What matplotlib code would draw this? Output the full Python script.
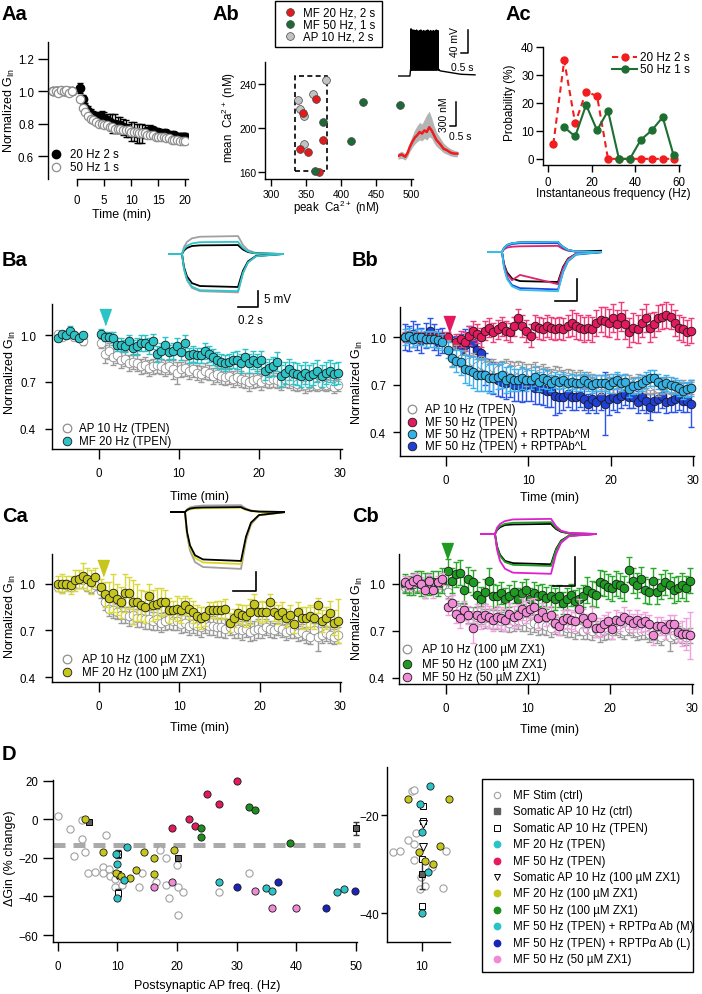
import matplotlib

matplotlib.use("Agg")
import matplotlib.pyplot as plt  # noqa: E402
import numpy as np  # noqa: E402
from matplotlib.lines import Line2D  # noqa: E402
from matplotlib.patches import Rectangle  # noqa: E402

W, H = 702, 995
plt.rcParams.update({
    "font.family": ["Liberation Sans", "DejaVu Sans"],
    "font.size": 8.3,
    "mathtext.default": "regular",
    "axes.linewidth": 1.0,
    "xtick.major.size": 5, "ytick.major.size": 5,
    "xtick.major.width": 1.0, "ytick.major.width": 1.0,
    "xtick.labelsize": 8.3, "ytick.labelsize": 8.3,
    "xtick.major.pad": 2.5, "ytick.major.pad": 2,
})

# ---------------------------------------------------------------- data: Aa
aa_t_base = [-4.5, -4.0, -3.5, -3.0, -2.5, -2.0, -1.5, -1.0]
aa_t_post = np.arange(0.5, 20.01, 0.5)
aa_50hz_base = [1.00, 1.00, 0.99, 1.01, 1.00, 1.01, 0.99, 1.00]
aa_50hz_post = [0.95, 0.90, 0.87, 0.85, 0.83, 0.82, 0.81, 0.80, 0.80, 0.79,
                0.79, 0.78, 0.78, 0.77, 0.77, 0.77, 0.76, 0.76, 0.76, 0.75,
                0.75, 0.75, 0.74, 0.74, 0.74, 0.73, 0.73, 0.73, 0.72, 0.72,
                0.72, 0.72, 0.71, 0.71, 0.70, 0.70, 0.70, 0.69, 0.69, 0.69]
aa_20hz_base = [1.00, 1.00, 1.00, 1.00, 1.00, 1.00, 1.00, 1.00]
aa_20hz_base_err = [0.01, 0.01, 0.01, 0.01, 0.01, 0.01, 0.02, 0.01]
aa_20hz_post = [1.02, 0.95, 0.90, 0.88, 0.86, 0.85, 0.84, 0.84, 0.84, 0.83,
                0.82, 0.81, 0.80, 0.80, 0.79, 0.79, 0.78, 0.77, 0.76, 0.75,
                0.75, 0.74, 0.74, 0.74, 0.75, 0.75, 0.76, 0.76, 0.75, 0.75,
                0.74, 0.74, 0.74, 0.73, 0.73, 0.73, 0.72, 0.72, 0.72, 0.72]
aa_20hz_post_err = [0.03, 0.03, 0.03, 0.03, 0.03, 0.03, 0.03, 0.03, 0.04, 0.04,
                    0.04, 0.05, 0.06, 0.06, 0.05, 0.05, 0.05, 0.05, 0.04, 0.06,
                    0.06, 0.06, 0.06, 0.06, 0.04, 0.03, 0.03, 0.02, 0.02, 0.02,
                    0.02, 0.02, 0.02, 0.02, 0.02, 0.02, 0.02, 0.02, 0.02, 0.02]

# ---------------------------------------------------------------- data: Ab
ab_mf20_peak = [365, 346, 341, 353, 374, 368]
ab_mf20_mean = [226, 214, 181, 178, 189, 160]
ab_mf50_peak = [431, 484, 374, 415, 363]
ab_mf50_mean = [224, 221, 205, 188, 161]
ab_ap10_peak = [379, 360, 339, 342, 347, 347]
ab_ap10_mean = [244, 231, 225, 217, 211, 185]
ab_box = (334, 160.5, 46, 86.5)          # dashed selection (x, y, w, h)
# inset: AP burst (s, mV)
ap_base_t = [0.0, 0.85, 0.90, 2.90, 3.0, 3.5, 4.5, 5.5]
ap_base_v = [-70, -70, -58, -58, -61, -63, -67, -68]
ap_spike_t = [0.92, 1.02, 1.12, 1.22, 1.32, 1.42, 1.52, 1.62, 1.72, 1.82,
              1.92, 2.02, 2.12, 2.22, 2.32, 2.42, 2.52, 2.62, 2.72, 2.84]
ap_spike_peak = [12, 10, 10, 9, 10, 8, 9, 10, 8, 9, 8, 9, 10, 8, 9, 8, 9, 8, 10, 9]
# inset: Ca2+ transient (s, nM above rest)
ca_t = [0.0, 0.3, 0.6, 0.8, 1.0, 1.2, 1.4, 1.6, 1.8, 2.0, 2.2,
        2.4, 2.6, 2.8, 3.0, 3.2, 3.5, 3.8, 4.1, 4.4, 4.7, 4.95]
ca_red = [0, 20, -10, 40, 120, 180, 230, 260, 300, 280, 320,
          300, 360, 320, 260, 200, 150, 90, 70, 40, 30, 30]
ca_gray_hi = [40, 60, 30, 90, 180, 260, 330, 380, 420, 400, 460,
              520, 560, 480, 380, 300, 230, 160, 120, 90, 70, 60]
ca_gray_lo = [-40, -30, -50, -10, 60, 110, 150, 180, 200, 190, 220,
              200, 240, 220, 160, 120, 80, 40, 20, 0, -10, -10]

# ---------------------------------------------------------------- data: Ac
ac_freq = [2.5, 7.5, 12.5, 17.5, 22.5, 27.5, 32.5, 37.5, 42.5, 47.5, 52.5, 57.5]
ac_20hz = [5.2, 35.2, 12.7, 24.0, 22.5, 0, 0, 0, 0, 0, 0, 0]
ac_50hz = [None, 11.3, 8.0, 19.3, 10.2, 17.2, 0, 0, 6.8, 10.2, 14.9, 1.2]

# ------------------------------------------------------- data: B/C courses
t_base10 = np.arange(-5.0, -0.4, 0.5)
t_base7 = np.arange(-5.0, -1.9, 0.5)
t_post = np.arange(0.25, 30.0, 0.5)

tpen_ap_base = [1.01, 0.99, 1.00, 1.01, 0.99, 0.98, 0.96]
tpen_ap_base_err = [0.02, 0.02, 0.02, 0.02, 0.02, 0.02, 0.02]
tpen_ap_post = [0.95, 0.88, 0.90, 0.86, 0.87, 0.84, 0.85, 0.82, 0.83, 0.82,
                0.80, 0.81, 0.79, 0.80, 0.81, 0.80, 0.79, 0.80, 0.78, 0.76,
                0.78, 0.79, 0.77, 0.78, 0.76, 0.75, 0.77, 0.76, 0.74, 0.75,
                0.74, 0.73, 0.74, 0.72, 0.73, 0.72, 0.71, 0.70, 0.71, 0.72,
                0.70, 0.72, 0.71, 0.72, 0.71, 0.70, 0.72, 0.71, 0.70, 0.69,
                0.70, 0.68, 0.69, 0.70, 0.68, 0.69, 0.68, 0.69, 0.67, 0.68]
tpen_ap_err = [0.03, 0.06, 0.05, 0.05, 0.05, 0.05, 0.05, 0.05, 0.05, 0.05,
               0.05, 0.05, 0.05, 0.05, 0.05, 0.05, 0.05, 0.05, 0.06, 0.07,
               0.05, 0.05, 0.05, 0.05, 0.05, 0.05, 0.05, 0.05, 0.05, 0.05,
               0.05, 0.05, 0.05, 0.05, 0.05, 0.05, 0.05, 0.06, 0.05, 0.05,
               0.05, 0.05, 0.05, 0.05, 0.05, 0.05, 0.05, 0.05, 0.05, 0.05,
               0.05, 0.05, 0.05, 0.05, 0.04, 0.04, 0.04, 0.04, 0.04, 0.04]

ba_mf20_base = [0.98, 1.01, 1.00, 1.03, 1.00, 0.98, 1.00]
ba_mf20_base_err = [0.02, 0.02, 0.02, 0.03, 0.02, 0.02, 0.02]
ba_mf20_post = [1.01, 0.99, 0.99, 0.98, 0.94, 0.94, 0.93, 0.96, 0.92, 0.93,
                0.95, 0.95, 0.93, 0.96, 0.88, 0.90, 0.94, 0.89, 0.90, 0.93,
                0.89, 0.95, 0.87, 0.88, 0.87, 0.87, 0.90, 0.88, 0.86, 0.84,
                0.83, 0.82, 0.83, 0.84, 0.84, 0.82, 0.86, 0.82, 0.84, 0.82,
                0.84, 0.77, 0.79, 0.80, 0.83, 0.74, 0.76, 0.78, 0.76, 0.75,
                0.74, 0.76, 0.74, 0.75, 0.77, 0.74, 0.76, 0.77, 0.75, 0.76]
ba_mf20_err = [0.03, 0.03, 0.03, 0.04, 0.04, 0.04, 0.04, 0.04, 0.05, 0.05,
               0.05, 0.05, 0.05, 0.05, 0.05, 0.05, 0.05, 0.05, 0.05, 0.05,
               0.05, 0.05, 0.05, 0.05, 0.05, 0.05, 0.05, 0.05, 0.05, 0.05,
               0.05, 0.05, 0.05, 0.05, 0.06, 0.06, 0.05, 0.06, 0.06, 0.06,
               0.06, 0.06, 0.06, 0.06, 0.06, 0.07, 0.07, 0.07, 0.07, 0.07,
               0.07, 0.07, 0.07, 0.07, 0.07, 0.07, 0.07, 0.07, 0.07, 0.07]

bb_mf50_base = [1.00, 1.01, 0.99, 1.00, 1.00, 0.99, 1.00, 0.99, 1.00, 1.00]
bb_mf50_base_err = [0.03, 0.03, 0.03, 0.03, 0.03, 0.03, 0.03, 0.03, 0.03, 0.03]
bb_mf50_post = [1.00, 0.95, 0.97, 0.99, 0.97, 1.01, 1.04, 1.02, 1.00, 1.04,
                1.06, 1.03, 1.05, 1.07, 1.04, 1.03, 1.07, 1.12, 1.07, 1.04,
                1.01, 1.07, 1.06, 1.05, 1.07, 1.06, 1.05, 1.06, 1.05, 1.07,
                1.09, 1.07, 1.06, 1.05, 1.06, 1.05, 1.09, 1.11, 1.10, 1.09,
                1.12, 1.08, 1.13, 1.08, 1.03, 1.06, 1.05, 1.09, 1.12, 1.06,
                1.08, 1.12, 1.13, 1.14, 1.13, 1.09, 1.06, 1.05, 1.03, 1.04]
bb_mf50_err = [0.03, 0.04, 0.05, 0.05, 0.06, 0.06, 0.06, 0.06, 0.06, 0.06,
               0.06, 0.06, 0.06, 0.06, 0.06, 0.06, 0.06, 0.06, 0.07, 0.07,
               0.07, 0.07, 0.07, 0.07, 0.07, 0.07, 0.07, 0.07, 0.07, 0.07,
               0.08, 0.08, 0.08, 0.08, 0.08, 0.08, 0.08, 0.08, 0.09, 0.09,
               0.09, 0.09, 0.09, 0.09, 0.09, 0.09, 0.09, 0.09, 0.09, 0.09,
               0.08, 0.08, 0.08, 0.08, 0.08, 0.08, 0.08, 0.08, 0.08, 0.08]
bb_abm_base = [1.00, 1.01, 0.99, 1.00, 1.00, 0.99, 0.99, 0.99, 0.98, 0.97]
bb_abm_base_err = [0.05, 0.05, 0.05, 0.05, 0.05, 0.05, 0.05, 0.05, 0.05, 0.05]
bb_abm_post = [0.92, 0.87, 0.85, 0.84, 0.80, 0.79, 0.78, 0.76, 0.76, 0.76,
               0.74, 0.74, 0.75, 0.76, 0.73, 0.74, 0.73, 0.73, 0.74, 0.73,
               0.73, 0.75, 0.72, 0.74, 0.73, 0.71, 0.73, 0.72, 0.73, 0.71,
               0.72, 0.71, 0.71, 0.73, 0.71, 0.70, 0.71, 0.71, 0.71, 0.70,
               0.72, 0.73, 0.71, 0.72, 0.67, 0.69, 0.70, 0.71, 0.73, 0.74,
               0.74, 0.72, 0.70, 0.71, 0.70, 0.69, 0.68, 0.66, 0.67, 0.68]
bb_abm_err = [0.05, 0.06, 0.07, 0.08, 0.09, 0.09, 0.10, 0.10, 0.10, 0.10,
              0.09, 0.09, 0.08, 0.08, 0.08, 0.08, 0.07, 0.07, 0.07, 0.07,
              0.06, 0.06, 0.06, 0.06, 0.06, 0.05, 0.05, 0.05, 0.05, 0.05,
              0.05, 0.05, 0.05, 0.05, 0.05, 0.05, 0.05, 0.05, 0.05, 0.05,
              0.05, 0.05, 0.05, 0.05, 0.05, 0.05, 0.05, 0.05, 0.05, 0.05,
              0.05, 0.05, 0.05, 0.05, 0.05, 0.05, 0.05, 0.05, 0.05, 0.05]
bb_abl_base = [1.00, 0.99, 1.02, 1.00, 0.98, 1.01, 1.04, 1.00, 0.97, 0.98]
bb_abl_base_err = [0.08, 0.08, 0.08, 0.08, 0.08, 0.08, 0.08, 0.08, 0.08, 0.08]
bb_abl_post = [0.96, 0.94, 0.93, 0.92, 0.95, 0.97, 0.96, 0.92, 0.90, 0.80,
               0.76, 0.74, 0.73, 0.72, 0.71, 0.72, 0.70, 0.70, 0.69, 0.70,
               0.70, 0.68, 0.68, 0.67, 0.66, 0.66, 0.63, 0.62, 0.62, 0.64,
               0.62, 0.62, 0.63, 0.61, 0.58, 0.61, 0.59, 0.62, 0.58, 0.61,
               0.62, 0.61, 0.63, 0.64, 0.62, 0.62, 0.59, 0.62, 0.60, 0.56,
               0.60, 0.61, 0.63, 0.59, 0.60, 0.61, 0.62, 0.60, 0.60, 0.58]
bb_abl_err = [0.05, 0.06, 0.08, 0.10, 0.10, 0.10, 0.10, 0.10, 0.10, 0.10,
              0.10, 0.10, 0.10, 0.10, 0.10, 0.10, 0.10, 0.10, 0.10, 0.10,
              0.10, 0.10, 0.10, 0.10, 0.10, 0.10, 0.12, 0.10, 0.08, 0.08,
              0.08, 0.08, 0.07, 0.07, 0.06, 0.07, 0.07, 0.08, 0.20, 0.10,
              0.08, 0.08, 0.08, 0.07, 0.07, 0.07, 0.07, 0.08, 0.08, 0.08,
              0.07, 0.08, 0.08, 0.07, 0.07, 0.08, 0.08, 0.07, 0.07, 0.15]

zx1_ap_base = [0.98, 0.97, 0.99, 0.98, 1.00, 1.00, 1.02, 0.98, 0.97, 0.99]
zx1_ap_base_err = [0.03, 0.03, 0.03, 0.03, 0.03, 0.03, 0.03, 0.03, 0.03, 0.03]
zx1_ap_post = [0.95, 0.88, 0.84, 0.83, 0.82, 0.80, 0.80, 0.79, 0.80, 0.78,
               0.78, 0.77, 0.77, 0.76, 0.77, 0.75, 0.76, 0.77, 0.76, 0.76,
               0.74, 0.75, 0.73, 0.74, 0.73, 0.72, 0.74, 0.73, 0.73, 0.72,
               0.72, 0.71, 0.72, 0.70, 0.71, 0.70, 0.71, 0.69, 0.70, 0.71,
               0.70, 0.72, 0.71, 0.70, 0.72, 0.71, 0.69, 0.70, 0.70, 0.68,
               0.69, 0.67, 0.66, 0.70, 0.66, 0.67, 0.68, 0.67, 0.66, 0.67]
zx1_ap_err = [0.04, 0.05, 0.05, 0.05, 0.05, 0.05, 0.05, 0.06, 0.06, 0.06,
              0.06, 0.06, 0.06, 0.06, 0.07, 0.06, 0.06, 0.06, 0.06, 0.06,
              0.06, 0.06, 0.06, 0.06, 0.06, 0.06, 0.06, 0.06, 0.06, 0.06,
              0.06, 0.06, 0.05, 0.05, 0.06, 0.06, 0.05, 0.06, 0.06, 0.06,
              0.05, 0.05, 0.05, 0.05, 0.05, 0.05, 0.05, 0.05, 0.05, 0.05,
              0.05, 0.05, 0.05, 0.05, 0.09, 0.05, 0.05, 0.05, 0.05, 0.05]

ca_mf20_base = [1.00, 1.00, 1.00, 0.99, 1.02, 1.03, 1.05, 1.03, 1.01, 1.04]
ca_mf20_base_err = [0.05, 0.06, 0.05, 0.06, 0.07, 0.06, 0.08, 0.07, 0.08, 0.06]
ca_mf20_post = [0.98, 0.93, 0.91, 0.94, 0.90, 0.88, 0.94, 0.94, 0.88, 0.88,
                0.86, 0.85, 0.92, 0.86, 0.87, 0.88, 0.88, 0.83, 0.83, 0.84,
                0.83, 0.86, 0.84, 0.82, 0.79, 0.78, 0.79, 0.83, 0.83, 0.83,
                0.83, 0.84, 0.75, 0.78, 0.81, 0.80, 0.79, 0.82, 0.87, 0.82,
                0.82, 0.82, 0.88, 0.82, 0.80, 0.82, 0.78, 0.80, 0.74, 0.82,
                0.78, 0.78, 0.79, 0.78, 0.86, 0.76, 0.78, 0.81, 0.75, 0.76]
ca_mf20_err = [0.05, 0.08, 0.10, 0.12, 0.10, 0.10, 0.12, 0.10, 0.14, 0.12,
               0.10, 0.10, 0.08, 0.10, 0.10, 0.09, 0.08, 0.08, 0.06, 0.08,
               0.08, 0.06, 0.07, 0.07, 0.07, 0.07, 0.06, 0.05, 0.05, 0.06,
               0.06, 0.06, 0.06, 0.06, 0.06, 0.06, 0.07, 0.08, 0.06, 0.06,
               0.07, 0.06, 0.05, 0.06, 0.06, 0.06, 0.06, 0.06, 0.06, 0.06,
               0.07, 0.07, 0.07, 0.07, 0.05, 0.07, 0.07, 0.08, 0.08, 0.14]

cb_mf50_base = [1.00, 0.99, 1.00, 1.01, 1.00, 0.99, 1.00, 1.01, 1.00, 1.02]
cb_mf50_base_err = [0.06, 0.06, 0.07, 0.07, 0.08, 0.08, 0.07, 0.07, 0.08, 0.08]
cb_mf50_post = [1.08, 1.02, 1.06, 1.07, 0.96, 1.03, 1.01, 0.93, 0.90, 0.95,
                1.02, 0.92, 0.92, 0.94, 0.90, 0.92, 0.95, 0.90, 0.94, 0.96,
                0.90, 0.94, 0.92, 0.93, 0.91, 0.92, 0.90, 0.92, 0.88, 0.90,
                0.93, 0.89, 0.90, 0.92, 0.96, 0.94, 0.93, 1.01, 1.00, 0.98,
                0.97, 1.00, 0.99, 0.97, 1.09, 1.02, 0.99, 1.03, 0.96, 0.95,
                1.02, 0.95, 0.98, 1.01, 0.99, 0.96, 0.97, 0.99, 0.97, 1.02]
cb_mf50_err = [0.08, 0.08, 0.08, 0.08, 0.08, 0.08, 0.08, 0.08, 0.08, 0.08,
               0.08, 0.08, 0.07, 0.07, 0.07, 0.07, 0.07, 0.07, 0.07, 0.07,
               0.07, 0.07, 0.07, 0.07, 0.07, 0.07, 0.07, 0.07, 0.07, 0.07,
               0.07, 0.07, 0.07, 0.07, 0.08, 0.08, 0.08, 0.08, 0.08, 0.08,
               0.08, 0.08, 0.08, 0.08, 0.08, 0.08, 0.08, 0.08, 0.08, 0.08,
               0.08, 0.08, 0.08, 0.08, 0.08, 0.08, 0.08, 0.08, 0.08, 0.08]
cb_zx50_base = [1.01, 1.00, 1.02, 1.03, 1.00, 0.96, 1.02, 0.96, 1.01, 1.03]
cb_zx50_base_err = [0.04, 0.04, 0.04, 0.04, 0.04, 0.05, 0.04, 0.05, 0.04, 0.04]
cb_zx50_post = [0.85, 0.88, 0.81, 0.78, 0.83, 0.80, 0.72, 0.80, 0.78, 0.80,
                0.79, 0.77, 0.79, 0.78, 0.77, 0.81, 0.79, 0.80, 0.84, 0.82,
                0.84, 0.85, 0.78, 0.82, 0.79, 0.80, 0.75, 0.73, 0.77, 0.78,
                0.77, 0.76, 0.84, 0.78, 0.75, 0.79, 0.72, 0.72, 0.74, 0.76,
                0.71, 0.77, 0.76, 0.79, 0.77, 0.75, 0.77, 0.75, 0.76, 0.74,
                0.67, 0.73, 0.73, 0.71, 0.74, 0.74, 0.69, 0.68, 0.68, 0.67]
cb_zx50_err = [0.05, 0.05, 0.06, 0.06, 0.06, 0.06, 0.10, 0.07, 0.07, 0.07,
               0.07, 0.07, 0.07, 0.07, 0.07, 0.07, 0.07, 0.07, 0.07, 0.07,
               0.06, 0.06, 0.06, 0.06, 0.06, 0.06, 0.06, 0.06, 0.06, 0.06,
               0.06, 0.06, 0.06, 0.06, 0.06, 0.06, 0.06, 0.06, 0.06, 0.06,
               0.06, 0.06, 0.06, 0.06, 0.06, 0.06, 0.06, 0.06, 0.06, 0.06,
               0.06, 0.06, 0.06, 0.06, 0.06, 0.06, 0.06, 0.08, 0.10, 0.15]

# example voltage responses to +/- current steps (s, mV)
tr_t = [0.0, 0.14, 0.16, 0.19, 0.24, 0.32, 0.70, 0.72, 0.75, 0.80, 0.88, 1.15]
ba_tr_gray = ([0, 0, 2.2, 3.8, 4.9, 5.4, 5.6, 4.5, 2.8, 1.2, 0.3, 0],
              [0, 0, -4.8, -8.2, -10.6, -11.6, -12.0, -9.6, -6.0, -2.6, -0.7, 0])
ba_tr_black = ([0, 0, 1.1, 1.9, 2.5, 2.7, 2.8, 2.2, 1.4, 0.6, 0.2, 0],
               [0, 0, -4.1, -7.0, -9.1, -10.0, -10.3, -8.2, -5.2, -2.3, -0.6, 0])
ba_tr_cyan = ([0, 0, 1.5, 2.6, 3.3, 3.7, 3.8, 3.0, 1.9, 0.8, 0.2, 0],
              [0, 0, -4.6, -7.9, -10.2, -11.3, -11.6, -9.3, -5.8, -2.6, -0.7, 0])
bb_tr_black = ([0, 0, 0.9, 1.6, 2.0, 2.2, 2.3, 1.8, 1.2, 0.5, 0.1, 0.3],
               [0, 0, -2.7, -4.6, -6.0, -6.6, -6.8, -5.4, -3.4, -1.5, -0.4, 0])
bb_tr_mag = ([0, 0, 0.6, 1.0, 1.2, 1.3, 1.4, 1.1, 0.7, 0.3, 0.1, 0],
             [0, 0, -2.9, -5.0, -6.4, -5.2, -7.3, -5.8, -3.7, -1.6, -0.4, 0])
bb_tr_blue = ([0, 0, 0.8, 1.4, 1.8, 2.0, 2.0, 1.6, 1.0, 0.4, 0.1, 0],
              [0, 0, -3.4, -5.8, -7.5, -8.2, -8.5, -7.0, -4.6, -2.1, -0.6, 0])
bb_tr_cyan = ([0, 0, 0.9, 1.6, 2.0, 2.2, 2.3, 1.8, 1.2, 0.5, 0.1, 0],
              [0, 0, -3.6, -6.1, -7.8, -8.6, -8.9, -7.1, -4.5, -2.0, -0.5, 0])
ca_tr_gray = ([0, 0, 0.7, 1.2, 1.5, 1.7, 1.8, 1.4, 0.9, 0.4, 0.1, 0],
              [0, 0, -6.0, -10.2, -13.2, -14.5, -15.0, -12.0, -7.5, -3.3, -0.9, 0])
ca_tr_black = ([0, 0, 0.5, 0.9, 1.1, 1.2, 1.3, 1.0, 0.7, 0.3, 0.1, 0],
               [0, 0, -5.2, -8.8, -11.4, -12.5, -12.9, -10.3, -6.5, -2.8, -0.8, 0])
ca_tr_yel = ([0, 0, 0.4, 0.7, 0.9, 1.0, 1.1, 0.9, 0.6, 0.2, 0.1, 0],
             [0, 0, -5.5, -9.3, -12.1, -13.3, -13.7, -11.0, -6.9, -3.0, -0.8, 0])
cb_tr_mag = ([0, 0, 1.1, 1.8, 2.3, 2.6, 2.7, 2.2, 1.4, 0.6, 0.2, 0],
             [0, 0, -2.8, -4.8, -6.2, -6.9, -7.1, -5.7, -3.6, -1.6, -0.4, 0])
cb_tr_green = ([0, 0, 0.8, 1.4, 1.8, 2.0, 2.1, 1.7, 1.1, 0.5, 0.1, 0],
               [0, 0, -2.3, -3.9, -5.0, -5.5, -5.7, -4.6, -2.9, -1.3, -0.3, 0])
cb_tr_black = ([0, 0, 0.7, 1.2, 1.6, 1.7, 1.8, 1.4, 0.9, 0.4, 0.1, 0],
               [0, 0, -2.2, -3.7, -4.8, -5.2, -5.4, -4.3, -2.7, -1.2, -0.3, 0])

# ---------------------------------------------------------------- data: D
d_ctrl_x = [0.1, 2.1, 4.1, 4.1, 8.1, 2.7, 4.6, 17.1, 18.1, 20.0, 5.1, 6.2, 7.6,
            7.6, 8.6, 8.7, 9.6, 9.6, 10.7, 13.6, 14.2, 16.4, 18.1, 18.6, 20.1,
            21.0, 20.1, 27.1, 32.0]
d_ctrl_y = [1.4, -5.2, -0.5, -10.4, -8.3, -19.0, -16.8, -16.1, -19.9, -23.9,
            -27.7, -27.2, -24.8, -27.7, -26.0, -29.4, -31.2, -35.3, -34.3, -35.2,
            -27.7, -32.5, -34.3, -41.0, -35.2, -37.8, -49.4, -37.7, -27.7]
d_som_ctrl_x = [5.2, 20.1, 50.0]
d_som_ctrl_y = [-1.4, -19.9, -4.7]
d_som_ctrl_err = [0, 0, 3.5]
d_som_tpen_x = [10.1, 10.1]
d_som_tpen_y = [-18.2, -38.1]
d_som_zx1_x = [10.0]
d_som_zx1_y = [-29.0]
d_mf20_tpen_x = [9.7, 10.0, 11.1, 10.0, 11.6]
d_mf20_tpen_y = [-17.9, -23.4, -31.7, -40.7, -14.2]
d_mf50_tpen_x = [19.1, 22.0, 23.1, 25.1, 27.0, 30.1]
d_mf50_tpen_y = [-4.7, 0.0, -3.5, 13.0, 8.1, 19.6]
d_mf20_zx1_x = [4.6, 7.6, 14.5, 16.1, 19.5, 9.7, 10.6, 12.1, 13.1, 16.1]
d_mf20_zx1_y = [0.0, -16.8, -16.8, -20.3, -15.9, -27.7, -29.4, -30.3, -26.5, -28.2]
d_mf50_zx1_x = [24.0, 24.0, 32.0, 33.1, 39.0]
d_mf50_zx1_y = [-4.8, -9.2, 6.1, 4.8, -12.1]
d_ab_m_x = [27.1, 34.9, 36.0, 46.9, 48.0]
d_ab_m_y = [-32.4, -35.5, -37.3, -37.7, -35.9]
d_ab_l_x = [30.1, 37.0, 45.0, 49.9]
d_ab_l_y = [-35.2, -32.4, -46.2, -37.3]
d_zx50_x = [16.1, 19.1, 33.1, 36.0, 40.0]
d_zx50_y = [-35.0, -32.4, -37.3, -46.2, -46.2]
d_threshold = -13.5

# D right: the 10 Hz group spread out
r_ctrl_x = [9.26, 9.4, 9.6, 9.0, 9.4, 11.7, 7.95, 8.4, 9.4, 10.7, 9.86, 10.2, 11.5, 9.9]
r_ctrl_y = [-15.0, -14.8, -23.7, -25.0, -25.9, -27.3, -27.6, -27.3, -29.1, -30.7,
            -35.1, -34.4, -34.9, -32.6]
r_som_ctrl_x = [10.0]
r_som_ctrl_y = [-32.0]
r_som_ctrl_err = [3.0]
r_som_tpen_x = [10.1, 10.05, 10.0, 10.0]
r_som_tpen_y = [-18.1, -21.2, -29.0, -38.5]
r_som_zx1_x = [10.05, 10.1]
r_som_zx1_y = [-21.8, -26.6]
r_mf20_tpen_x = [10.6, 9.86, 10.0, 10.45, 10.0]
r_mf20_tpen_y = [-14.0, -17.8, -23.4, -31.7, -40.0]
r_mf20_zx1_x = [9.0, 11.9, 11.3, 9.8, 10.2, 10.8]
r_mf20_zx1_y = [-16.7, -16.7, -26.3, -27.6, -29.3, -30.0]

# ---------------------------------------------------------------- colours
CYAN, CYAN_E = "#2cc3c6", "#2ac4c8"
MAG, MAG_E = "#e5195e", "#f03b78"
LBLUE, LBLUE_E = "#33b2e6", "#3cb0ee"
DBLUE, DBLUE_E = "#1f3fd6", "#2b55ea"
OLIVE, OLIVE_E = "#c6c61c", "#d8d83c"
GREEN, GREEN_E = "#1f9a22", "#2aa82c"
PINK, PINK_E = "#f08ad6", "#f2a0e0"
GRAY_E = "#9a9a9a"
D_GREEN, D_BLUE = "#1e8c1e", "#1a24b8"

fig = plt.figure(figsize=(W / 100, H / 100), dpi=100)


def new_axes(box):
    x0, y0, x1, y1 = box
    return fig.add_axes([x0 / W, 1 - y1 / H, (x1 - x0) / W, (y1 - y0) / H])


def igor(ax, xlen=5, xpad=2.5, ylen=5, ypad=2):
    ax.spines[["top", "right"]].set_visible(False)
    ax.tick_params(direction="out")
    ax.tick_params(axis="x", length=xlen, pad=xpad)
    ax.tick_params(axis="y", length=ylen, pad=ypad)


def labels(ax, box, xlabel=None, xpos=None, ylabel=None, ypos=None, fs=9):
    x0, y0, x1, y1 = box

    def to_ax(x, y):
        return (x - x0) / (x1 - x0), (y1 - y) / (y1 - y0)

    if xlabel:
        ax.set_xlabel(xlabel, fontsize=fs)
        ax.xaxis.set_label_coords(*to_ax(*xpos))
        ax.xaxis.label.set_va("center")
    if ylabel:
        ax.set_ylabel(ylabel, fontsize=fs)
        ax.yaxis.set_label_coords(*to_ax(*ypos))
        ax.yaxis.label.set_va("center")
        ax.yaxis.label.set_ha("center")


def panel(x, y, s):
    fig.text(x / W, 1 - y / H, s, fontsize=14.5, fontweight="bold", va="center")


def key(xm, xt, y, text, fs=8.3, **mk):
    fig.add_artist(Line2D([xm / W], [1 - y / H], transform=fig.transFigure,
                          ls="none", **mk))
    fig.text(xt / W, 1 - y / H, text, va="center", ha="left", fontsize=fs)


def course(ax, t, y, err, face, ecolor, edge="#1a1a1a", ms=6.2, z=2):
    ax.errorbar(t, y, yerr=err, fmt="none", ecolor=ecolor, elinewidth=1.0,
                capsize=2.5, capthick=1.0, zorder=z, clip_on=False)
    ax.plot(t, y, "o", ms=ms, mfc=face, mec=edge, mew=0.6, zorder=z + 1,
            clip_on=False)


def join(base, post):
    return list(base) + list(post)


TRI = [(-0.72, 1), (0.72, 1), (0, -1)]
OPEN = dict(marker="o", mfc="white", mec="#8f8f8f", mew=0.9)


def time_axes(box, xlim, ylim, ypad=5):
    ax = new_axes(box)
    igor(ax, xlen=7.5, xpad=5.5, ylen=5, ypad=ypad)
    ax.set_xlim(*xlim)
    ax.set_ylim(*ylim)
    ax.set_xticks([0, 10, 20, 30])
    ax.set_yticks([0.4, 0.7, 1.0])
    ax.set_yticklabels(["0.4", "0.7", "1.0"])
    return ax


def traces(box, xlim, ylim, sets, bar=None):
    ax = new_axes(box)
    ax.set_axis_off()
    ax.set_xlim(*xlim)
    ax.set_ylim(*ylim)
    for (up, dn), col in sets:
        ax.plot(tr_t, up, color=col, lw=1.3)
        ax.plot(tr_t, dn, color=col, lw=1.3)
    if bar:
        bx, by, bw, bh = bar
        ax.plot([bx - bw, bx, bx], [by, by, by + bh], color="black", lw=1.2,
                clip_on=False)
    return ax


# ================================================================ Aa
box = (48, 43, 188, 180)
ax = new_axes(box)
igor(ax, xlen=5, xpad=6, ylen=7.5, ypad=2.5)
ax.set_xlim(-5.4, 20.5)
ax.set_ylim(0.458, 1.305)
ax.spines["bottom"].set_bounds(0, 20.5)
ax.set_xticks([0, 5, 10, 15, 20])
ax.set_yticks([0.6, 0.8, 1.0, 1.2])
ax.errorbar(join(aa_t_base, aa_t_post), join(aa_20hz_base, aa_20hz_post),
            yerr=join(aa_20hz_base_err, aa_20hz_post_err), fmt="none",
            ecolor="black", elinewidth=1, capsize=2.5, capthick=1, zorder=2)
ax.plot(join(aa_t_base, aa_t_post), join(aa_20hz_base, aa_20hz_post), "o",
        ms=6, color="black", zorder=3)
ax.plot(join(aa_t_base, aa_t_post), join(aa_50hz_base, aa_50hz_post), ls="none",
        ms=6, zorder=4, **OPEN)
labels(ax, box, "Time (min)", (122, 215), "Normalized G$_{In}$", (9, 110))
panel(2, 15, "Aa")
key(56, 70, 155, "20 Hz 2 s", marker="o", ms=6, color="black")
key(56, 70, 168, "50 Hz 1 s", ms=6, **OPEN)

# ================================================================ Ab
box = (265, 63, 413, 180)
ax = new_axes(box)
igor(ax, xpad=2, ypad=1.2)
ax.set_xlim(291.5, 503)
ax.set_ylim(153.6, 260)
ax.set_xticks([300, 350, 400, 450, 500])
ax.set_yticks([160, 200, 240])
ax.tick_params(labelsize=7.4)
ax.add_patch(Rectangle(ab_box[:2], ab_box[2], ab_box[3], fill=False, ec="black",
                       lw=1.2, ls=(0, (3, 2))))
ab_mk = dict(ls="none", marker="o", ms=5.6, mec="#444444", mew=0.5, clip_on=False)
ax.plot(ab_ap10_peak, ab_ap10_mean, mfc="#c2c2c2", **ab_mk)
ax.plot(ab_mf20_peak, ab_mf20_mean, mfc="#e3191c", **ab_mk)
ax.plot(ab_mf50_peak, ab_mf50_mean, mfc="#1d6a37", **ab_mk)
labels(ax, box, "peak  Ca$^{2+}$ (nM)", (337, 208), "mean  Ca$^{2+}$ (nM)",
       (229, 118), fs=8.3)
panel(213, 15, "Ab")
fig.add_artist(Rectangle((275 / W, 1 - 48 / H), 107 / W, 46 / H,
                         transform=fig.transFigure, fill=False, ec="black", lw=1))
key(290, 303, 13, "MF 20 Hz, 2 s", marker="o", ms=5.6, mfc="#e3191c", mec="#444", mew=0.5)
key(290, 303, 25, "MF 50 Hz, 1 s", marker="o", ms=5.6, mfc="#1d6a37", mec="#444", mew=0.5)
key(290, 303, 37, "AP 10 Hz, 2 s", marker="o", ms=5.6, mfc="#c2c2c2", mec="#444", mew=0.5)

# inset: burst of APs
ax = new_axes((398, 25, 476, 80))
ax.set_axis_off()
ax.set_xlim(0, 5.57)
ax.set_ylim(-75.2, 20.4)
verts = list(zip(ap_base_t, ap_base_v))
for ts, pk in zip(ap_spike_t, ap_spike_peak):
    verts += [(ts - 0.005, -58), (ts + 0.01, pk), (ts + 0.03, -60)]
verts.sort()
ax.plot([v[0] for v in verts], [v[1] for v in verts], color="black", lw=1.0)
ax.plot([4.5, 5.0, 5.0], [-30, -30, 10], color="black", lw=1.1)
ax.text(4.45, -10, "40 mV", rotation=90, ha="right", va="center", fontsize=7.5)
ax.text(4.6, -45, "0.5 s", ha="center", va="top", fontsize=7.5)

# inset: Ca2+ transient
ax = new_axes((398, 95, 462, 165))
ax.set_axis_off()
ax.set_xlim(0, 5.33)
ax.set_ylim(-100, 775)
ax.fill_between(ca_t, ca_gray_lo, ca_gray_hi, color="#b4b4b4", lw=0)
ax.plot(ca_t, ca_red, color="#ee1c1c", lw=1.8)
ax.plot([4.33, 4.83, 4.83], [375, 375, 675], color="black", lw=1.1, clip_on=False)
ax.text(4.25, 525, "300 nM", rotation=90, ha="right", va="center", fontsize=7.5)
ax.text(5.2, 250, "0.5 s", ha="center", va="center", fontsize=7.5)

# ================================================================ Ac
box = (543, 48, 680, 166)
ax = new_axes(box)
igor(ax, xpad=3, ypad=1.5)
ax.set_xlim(-2.2, 60.4)
ax.set_ylim(-2.2, 40)
ax.set_xticks([0, 20, 40, 60])
ax.set_yticks([0, 10, 20, 30, 40])
ax.plot(ac_freq, ac_20hz, color="#f01e1e", lw=1.5, ls=(0, (3, 2)), marker="o",
        ms=5, clip_on=False)
ac_50 = [(f, v) for f, v in zip(ac_freq, ac_50hz) if v is not None]
ax.plot([p[0] for p in ac_50], [p[1] for p in ac_50], color="#1e6e32", lw=1.5,
        marker="o", ms=5, clip_on=False)
labels(ax, box, "Instantaneous frequency (Hz)", (613, 194), "Probability (%)",
       (510, 103), fs=8.5)
panel(505, 15, "Ac")
for y, col, ls, txt in [(58, "#f01e1e", (0, (3, 2)), "20 Hz 2 s"),
                        (70, "#1e6e32", "-", "50 Hz 1 s")]:
    fig.add_artist(Line2D([612 / W, 624.5 / W, 637 / W], [1 - y / H] * 3,
                          transform=fig.transFigure, color=col, lw=1.5, ls=ls,
                          marker="o", ms=5, markevery=[1]))
    fig.text(640 / W, 1 - y / H, txt, va="center", fontsize=8.5)

# ================================================================ Ba
box = (52, 305, 342, 450)
ax = time_axes(box, (-5.8, 30.3), (0.27, 1.2), ypad=6.5)
course(ax, join(t_base7, t_post), join(tpen_ap_base, tpen_ap_post),
       join(tpen_ap_base_err, tpen_ap_err), "white", GRAY_E, edge="#8f8f8f", z=2)
course(ax, join(t_base7, t_post), join(ba_mf20_base, ba_mf20_post),
       join(ba_mf20_base_err, ba_mf20_err), CYAN, CYAN_E, z=4)
ax.plot([0.75], [1.115], marker=TRI, ms=11.5, color=CYAN, clip_on=False, zorder=6)
labels(ax, box, "Time (min)", (199, 497), "Normalized G$_{In}$", (10, 372))
panel(2, 260, "Ba")
key(67, 79, 429, "AP 10 Hz (TPEN)", ms=6.2, **OPEN)
key(67, 79, 442, "MF 20 Hz (TPEN)", marker="o", ms=6.2, mfc=CYAN, mec="#1a1a1a", mew=0.6)
ax = traces((168, 232, 290, 312), (0, 1.22), (-17.8, 7.19),
            [(ba_tr_gray, "#a0a0a0"), (ba_tr_black, "black"), (ba_tr_cyan, "#2cc6cc")],
            bar=(0.9, -16.6, 0.2, 5))
ax.text(0.96, -14.1, "5 mV", ha="left", va="center", fontsize=8.3)
ax.text(0.82, -18.6, "0.2 s", ha="center", va="top", fontsize=8.3)

# ================================================================ Bb
box = (400, 308, 694, 457)
ax = time_axes(box, (-5.6, 30.1), (0.25, 1.19), ypad=5)
course(ax, join(t_base10, t_post), join(bb_abl_base, bb_abl_post),
       join(bb_abl_base_err, bb_abl_err), DBLUE, DBLUE_E, z=2)
course(ax, join(t_base10, t_post), join(bb_mf50_base, bb_mf50_post),
       join(bb_mf50_base_err, bb_mf50_err), MAG, MAG_E, z=4)
course(ax, t_post, tpen_ap_post, tpen_ap_err, "white", GRAY_E, edge="#8f8f8f", z=6)
course(ax, join(t_base10, t_post), join(bb_abm_base, bb_abm_post),
       join(bb_abm_base_err, bb_abm_err), LBLUE, LBLUE_E, z=8)
ax.plot([0.36], [1.08], marker=TRI, ms=11.5, color=MAG, clip_on=False, zorder=12)
labels(ax, box, "Time (min)", (549, 498), "Normalized G$_{In}$", (357, 382))
panel(352, 260, "Bb")
key(412, 425, 410, "AP 10 Hz (TPEN)", ms=6.2, **OPEN)
key(412, 425, 423, "MF 50 Hz (TPEN)", marker="o", ms=6.2, mfc=MAG, mec="#1a1a1a", mew=0.6)
key(412, 425, 435, "MF 50 Hz (TPEN) + RPTPAb^M", marker="o", ms=6.2, mfc=LBLUE,
    mec="#1a1a1a", mew=0.6)
key(412, 425, 447, "MF 50 Hz (TPEN) + RPTPAb^L", marker="o", ms=6.2, mfc=DBLUE,
    mec="#1a1a1a", mew=0.6)
traces((485, 238, 602, 305), (-0.03, 1.14), (-11.8, 3.41),
       [(bb_tr_black, "black"), (bb_tr_mag, "#e0226a"), (bb_tr_blue, "#2244e6"),
        (bb_tr_cyan, "#33c2e6")], bar=(0.89, -11.1, 0.22, 5))

# ================================================================ Ca
box = (52, 555, 341, 683)
ax = time_axes(box, (-5.8, 30.1), (0.368, 1.19), ypad=7)
course(ax, join(t_base10, t_post), join(zx1_ap_base, zx1_ap_post),
       join(zx1_ap_base_err, zx1_ap_err), "white", GRAY_E, edge="#8f8f8f", z=2)
course(ax, join(t_base10, t_post), join(ca_mf20_base, ca_mf20_post),
       join(ca_mf20_base_err, ca_mf20_err), OLIVE, OLIVE_E, z=4)
ax.plot([0.5], [1.1], marker=TRI, ms=11.5, color=OLIVE, clip_on=False, zorder=6)
labels(ax, box, "Time (min)", (199, 728), "Normalized G$_{In}$", (10, 616))
panel(2, 516, "Ca")
key(67, 82, 660, "AP 10 Hz (100 µM ZX1)", ms=6.2, **OPEN)
key(67, 82, 673, "MF 20 Hz (100 µM ZX1)", marker="o", ms=6.2, mfc=OLIVE,
    mec="#1a1a1a", mew=0.6)
traces((163, 495, 285, 598), (-0.08, 1.14), (-22.4, 4.74),
       [(ca_tr_gray, "#a0a0a0"), (ca_tr_yel, "#d8d820"), (ca_tr_black, "black")],
       bar=(0.85, -20.8, 0.23, 5))

# ================================================================ Cb
box = (399, 555, 693, 685)
ax = time_axes(box, (-5.7, 30.1), (0.36, 1.19), ypad=5)
course(ax, join(t_base10, t_post), join(zx1_ap_base, zx1_ap_post),
       join(zx1_ap_base_err, zx1_ap_err), "white", GRAY_E, edge="#8f8f8f", z=2)
course(ax, join(t_base10, t_post), join(cb_mf50_base, cb_mf50_post),
       join(cb_mf50_base_err, cb_mf50_err), GREEN, GREEN_E, z=4)
course(ax, join(t_base10, t_post), join(cb_zx50_base, cb_zx50_post),
       join(cb_zx50_base_err, cb_zx50_err), PINK, PINK_E, z=6)
ax.plot([0.1], [1.21], marker=TRI, ms=11.5, color=GREEN, clip_on=False, zorder=8)
labels(ax, box, "Time (min)", (549, 730), "Normalized G$_{In}$", (357, 618))
panel(352, 516, "Cb")
key(407, 422, 650, "AP 10 Hz (100 µM ZX1)", ms=6.2, **OPEN)
key(407, 422, 665, "MF 50 Hz (100 µM ZX1)", marker="o", ms=6.2, mfc=GREEN,
    mec="#1a1a1a", mew=0.6)
key(407, 422, 678, "MF 50 Hz (50 µM ZX1)", marker="o", ms=6.2, mfc=PINK,
    mec="#1a1a1a", mew=0.6)
traces((478, 512, 600, 595), (-0.03, 1.19), (-10.7, 4.1),
       [(cb_tr_black, "black"), (cb_tr_green, "#1f9a22"), (cb_tr_mag, "#e020d0")],
       bar=(0.94, -9.3, 0.22, 5.2))

# ================================================================ D
D_MS = 5.2
dot = dict(ls="none", marker="o", ms=D_MS, mec="#1a1a1a", mew=0.6, clip_on=False)
open_d = dict(ls="none", marker="o", ms=D_MS, mfc="white", mec="#a0a0a0", mew=0.8,
              clip_on=False)
sq = dict(ls="none", marker="s", ms=D_MS - 0.4, mec="black", mew=0.7, clip_on=False)
tri = dict(ls="none", marker="v", ms=D_MS, mfc="white", mec="black", mew=0.7,
           clip_on=False)

box = (53, 781, 357, 943)
ax = new_axes(box)
igor(ax, xlen=6.5, xpad=6.5, ylen=7.5, ypad=3)
ax.set_xlim(-0.8, 50.2)
ax.set_ylim(-63.6, 20.3)
ax.set_xticks([0, 10, 20, 30, 40, 50])
ax.set_yticks([20, 0, -20, -40, -60])
ax.axhline(d_threshold, xmin=0, xmax=1.01, color="#aaaaaa", lw=3.6,
           ls=(0, (2.4, 1.6)), clip_on=False, zorder=1)
ax.plot(d_ctrl_x, d_ctrl_y, **open_d)
ax.errorbar(d_som_ctrl_x, d_som_ctrl_y, yerr=d_som_ctrl_err, fmt="none",
            ecolor="#333333", elinewidth=1, capsize=2, clip_on=False)
ax.errorbar(d_som_tpen_x, d_som_tpen_y, yerr=[2, 2], fmt="none",
            ecolor="#333333", elinewidth=0.8, capsize=2, clip_on=False)
ax.plot(d_som_zx1_x, d_som_zx1_y, **tri)
ax.plot(d_som_tpen_x, d_som_tpen_y, mfc="white", **sq)
ax.plot(d_som_ctrl_x, d_som_ctrl_y, mfc="#5e5e5e", **sq)
ax.plot(d_mf20_zx1_x, d_mf20_zx1_y, mfc=OLIVE, **dot)
ax.plot(d_mf20_tpen_x, d_mf20_tpen_y, mfc=CYAN, **dot)
ax.plot(d_mf50_tpen_x, d_mf50_tpen_y, mfc=MAG, **dot)
ax.plot(d_mf50_zx1_x, d_mf50_zx1_y, mfc=D_GREEN, **dot)
ax.plot(d_ab_m_x, d_ab_m_y, mfc=CYAN, **dot)
ax.plot(d_ab_l_x, d_ab_l_y, mfc=D_BLUE, **dot)
ax.plot(d_zx50_x, d_zx50_y, mfc=PINK, **dot)
labels(ax, box, "Postsynaptic AP freq. (Hz)", (207, 986), "ΔGin (% change)",
       (10, 858))
panel(2, 755, "D")

box = (387, 768, 450, 943)
ax = new_axes(box)
igor(ax, xlen=6.5, xpad=6.5, ylen=4, ypad=1.5)
ax.set_xlim(7.5, 12.0)
ax.set_ylim(-45.9, -10.2)
ax.set_xticks([10])
ax.set_yticks([-20, -40])
ax.plot(r_ctrl_x, r_ctrl_y, **open_d)
ax.errorbar(r_som_ctrl_x, r_som_ctrl_y, yerr=r_som_ctrl_err, fmt="none",
            ecolor="#333333", elinewidth=1, capsize=2)
ax.plot(r_som_tpen_x, r_som_tpen_y, mfc="white", **sq)
ax.plot(r_som_zx1_x, r_som_zx1_y, **tri)
ax.plot(r_som_ctrl_x, r_som_ctrl_y, mfc="#5e5e5e", **sq)
ax.plot(r_mf20_zx1_x, r_mf20_zx1_y, mfc=OLIVE, **dot)
ax.plot(r_mf20_tpen_x, r_mf20_tpen_y, mfc=CYAN, **dot)

# D legend
fig.add_artist(Rectangle((482 / W, 1 - 973 / H), 211 / W, 193 / H,
                         transform=fig.transFigure, fill=False, ec="black", lw=1))
d_legend = [
    ("MF Stim (ctrl)", dict(marker="o", mfc="white", mec="#a0a0a0", mew=0.8)),
    ("Somatic AP 10 Hz (ctrl)", dict(marker="s", mfc="#5e5e5e", mec="#5e5e5e")),
    ("Somatic AP 10 Hz (TPEN)", dict(marker="s", mfc="white", mec="black", mew=0.7)),
    ("MF 20 Hz (TPEN)", dict(marker="o", mfc=CYAN, mec=CYAN)),
    ("MF 50 Hz (TPEN)", dict(marker="o", mfc=MAG, mec=MAG)),
    ("Somatic AP 10 Hz (100 µM ZX1)", dict(marker="v", mfc="white", mec="black", mew=0.7)),
    ("MF 20 Hz (100 µM ZX1)", dict(marker="o", mfc=OLIVE, mec=OLIVE)),
    ("MF 50 Hz (100 µM ZX1)", dict(marker="o", mfc=D_GREEN, mec=D_GREEN)),
    ("MF 50 Hz (TPEN) + RPTPα Ab (M)", dict(marker="o", mfc=CYAN, mec=CYAN)),
    ("MF 50 Hz (TPEN) + RPTPα Ab (L)", dict(marker="o", mfc=D_BLUE, mec=D_BLUE)),
    ("MF 50 Hz (50 µM ZX1)", dict(marker="o", mfc=PINK, mec=PINK)),
]
for i, (txt, mk) in enumerate(d_legend):
    key(497, 513, 796 + 16.4 * i, txt, fs=8.3, ms=4.6, **mk)

fig.savefig("out.png", dpi=100)
